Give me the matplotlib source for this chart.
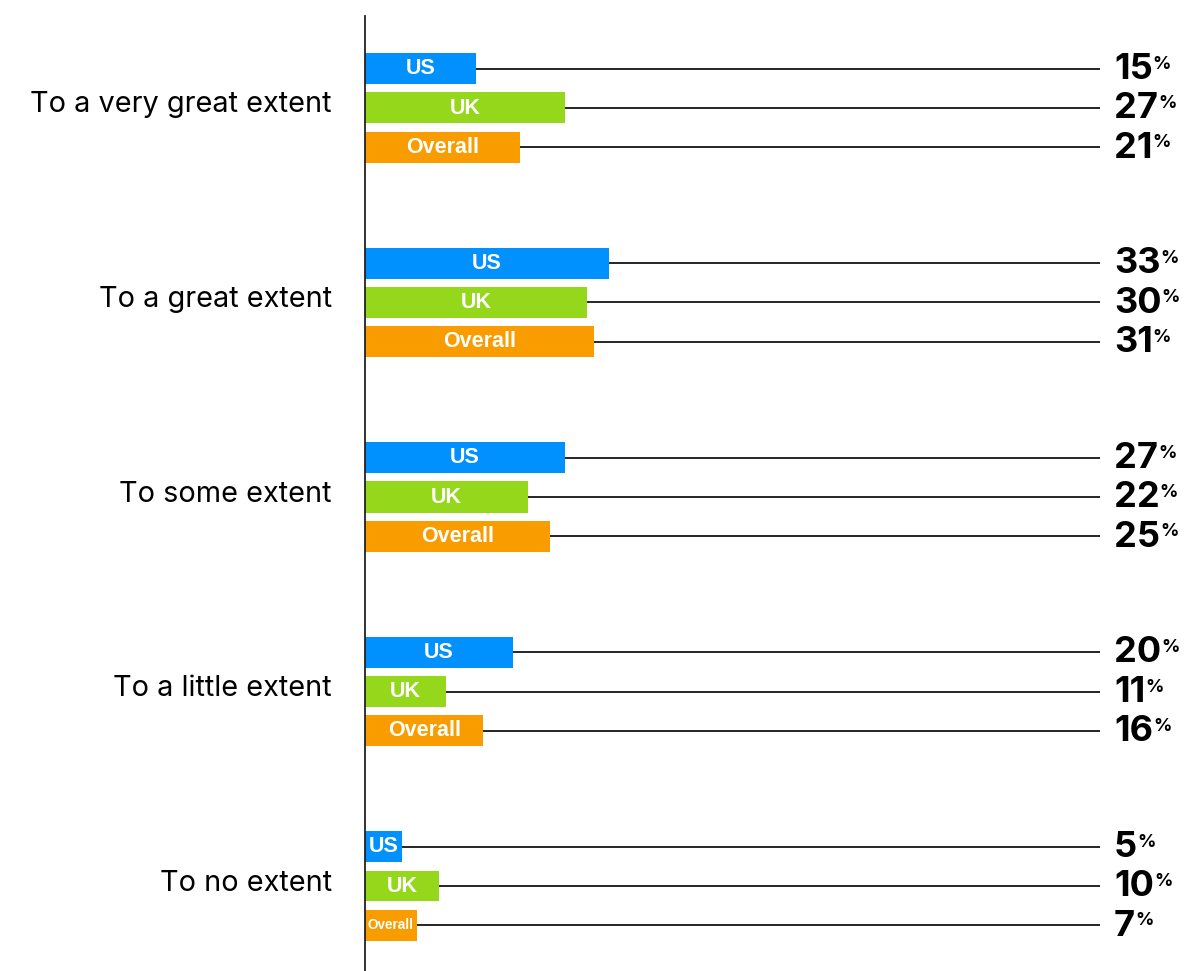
import numpy as np
import matplotlib
matplotlib.use("Agg")
import matplotlib.pyplot as plt

categories = ["To a very great extent", "To a great extent", "To some extent",
              "To a little extent", "To no extent"]
series = ["US", "UK", "Overall"]
us = [15, 33, 27, 20, 5]
uk = [27, 30, 22, 11, 10]
overall = [21, 31, 25, 16, 7]
colors = ["#0091ff", "#95d81b", "#f89c00"]

values = [us, uk, overall]

W, H = 1185, 971
fig = plt.figure(figsize=(W / 100, H / 100), dpi=100)
# axes spans from the vertical line (x=365) to the right edge
ax = fig.add_axes([365 / W, 0, 1 - 365 / W, (971 - 16) / H])

px_per_pct = 7.40
ax.set_xlim(0, (W - 365) / px_per_pct)
# group spacing 194.5 px, first group centre at y=108
gsp = 194.5
ax.set_ylim((971 - 108) / gsp, (16 - 108) / gsp)

offset = 39.3 / gsp
bar_h = 31 / gsp
line_end = (1100 - 365) / px_per_pct
num_x = (1114 - 365) / px_per_pct

renderer = fig.canvas.get_renderer()
y_groups = np.arange(len(categories))

for s, (name, vals, col) in enumerate(zip(series, values, colors)):
    ys = y_groups + (s - 1) * offset
    ax.barh(ys, vals, height=bar_h, color=col, left=0)
    ax.hlines(ys, vals, line_end, color="black", lw=1.2)
    for y, v in zip(ys, vals):
        # bar label, shrunk if it does not fit
        t = ax.text(v / 2, y, name, ha="center", va="center", color="white",
                    fontsize=15.5, fontweight="bold", family="Liberation Sans")
        bb = t.get_window_extent(renderer)
        bar_px = v * px_per_pct
        if bb.width > bar_px - 6:
            t.set_fontsize(15.5 * (bar_px - 6) / bb.width)
        # value number plus small percent sign
        n = ax.text(num_x, y + 0.004, str(v), ha="left", va="center", color="black",
                    fontsize=26, fontweight="bold", family="Inter")
        nb = n.get_window_extent(renderer)
        x_disp = nb.x1
        top_disp = ax.transData.transform((0, y))[1] + 13
        ax.annotate("%", xy=(x_disp, top_disp), xycoords="figure pixels",
                    ha="left", va="top", fontsize=13, fontweight="bold",
                    family="Inter", color="black")

ax.set_yticks(y_groups - 6 / gsp, categories)
ax.tick_params(axis="y", length=0, pad=24, labelsize=20.8)
for lab in ax.get_yticklabels():
    lab.set_family("Inter")
ax.set_xticks([])
for sp in ["top", "right", "bottom"]:
    ax.spines[sp].set_visible(False)
ax.spines["left"].set_linewidth(1.3)
ax.spines["left"].set_color("#222222")

fig.savefig("out.png", dpi=100)
